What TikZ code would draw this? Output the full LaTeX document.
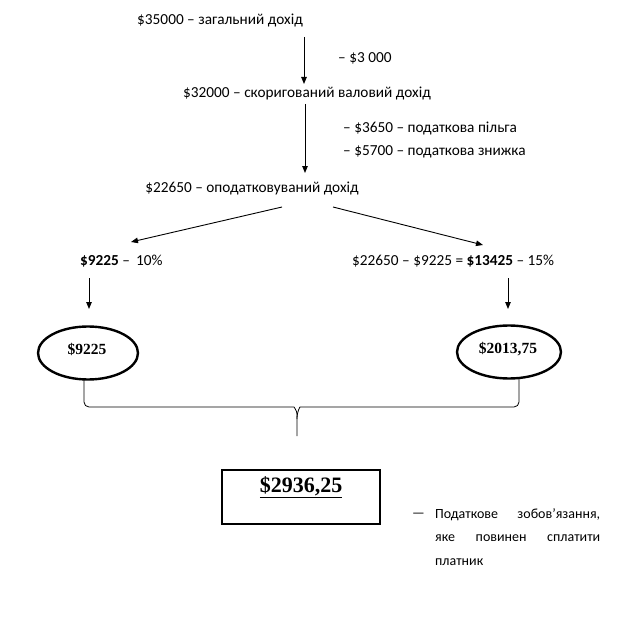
\documentclass[tikz,border=0pt]{standalone}
\usepackage{fontspec}
\setmainfont{Carlito}
\newfontfamily\serifb{Liberation Serif}
\usetikzlibrary{arrows.meta,shapes.geometric}
\tikzset{
  txt/.style={inner sep=0pt, font=\fontsize{15.3}{18}\selectfont},
  arr/.style={line width=0.9pt, -{Triangle[length=7pt,width=5.5pt]}},
  oval/.style={ellipse, draw, line width=2.4pt, inner sep=0pt},
  ovaltxt/.style={inner sep=0pt, font=\serifb\bfseries\fontsize{15.5}{18}\selectfont},
  resbox/.style={draw, line width=2.8pt, inner sep=0pt},
  desc/.style={inner sep=0pt, anchor=west, font=\fontsize{14}{17}\selectfont}
}
\begin{document}
\begin{tikzpicture}[x=1pt,y=-1pt]
\useasboundingbox (0,0) rectangle (630,626);
% texts
\node[txt] (t1) at (220,20) {\$35000 – загальний дохід};
\node[txt,anchor=west] (m1) at (338,58) {– \$3 000};
\node[txt] (t2) at (307,93) {\$32000 – скоригований валовий дохід};
\node[txt,anchor=west] (m2) at (343,128) {– \$3650 – податкова пільга};
\node[txt,anchor=west] (m3) at (343,152) {– \$5700 – податкова знижка};
\node[txt] (t3) at (252,188) {\$22650 – оподатковуваний дохід};
\node[txt,anchor=west] (l1) at (80,261) {\textbf{\$9225} –\, 10\%};
\node[txt,anchor=west] (r1) at (352,261) {\$22650 – \$9225 = \textbf{\$13425} – 15\%};
% arrow end points
\coordinate (a1s) at (304,37);  \coordinate (a1e) at (304,84);
\coordinate (a2s) at (305,104); \coordinate (a2e) at (305,173);
\coordinate (als) at (282,207); \coordinate (ale) at (131,242);
\coordinate (ars) at (333,207); \coordinate (are) at (483,245);
\coordinate (dls) at (89,278);  \coordinate (dle) at (89,309);
\coordinate (drs) at (508,278); \coordinate (dre) at (508,309);
\draw[arr] (a1s) -- (a1e);
\draw[arr] (a2s) -- (a2e);
\draw[arr] (als) -- (ale);
\draw[arr] (ars) -- (are);
\draw[arr] (dls) -- (dle);
\draw[arr] (drs) -- (dre);
% ovals
\node[oval, minimum width=100pt, minimum height=53pt] (e1) at (88,353) {};
\node[ovaltxt] (e1t) at (87,349) {\$9225};
\node[oval, minimum width=104pt, minimum height=53pt] (e2) at (509,352) {};
\node[ovaltxt] (e2t) at (508,349) {\$2013,75};
% brace
\coordinate (bl) at (84,380);
\coordinate (br) at (519,379);
\coordinate (bt) at (297,436);
\draw[line width=0.8pt, rounded corners=5pt]
  (bl) -- (84,407) -- (289,407) .. controls (294,407) and (297,411) .. (297,419) -- (bt);
\draw[line width=0.8pt, rounded corners=5pt]
  (br) -- (519,407) -- (305,407) .. controls (300,407) and (297,411) .. (297,419);
% result
\node[resbox, minimum width=158pt, minimum height=54pt] (res) at (301,497) {};
\node[inner sep=0pt, font=\serifb\bfseries\fontsize{22}{26}\selectfont] (rest) at (301,487) {\underline{\$2936,25}};
% description
\node[desc] (dd) at (412,515) {—};
\node[desc] (d1) at (435,515) {\makebox[165pt][s]{Податкове зобов’язання,}};
\node[desc] (d2) at (435,538) {\makebox[165pt][s]{яке повинен сплатити}};
\node[desc] (d3) at (435,562) {платник};
\end{tikzpicture}
\end{document}
